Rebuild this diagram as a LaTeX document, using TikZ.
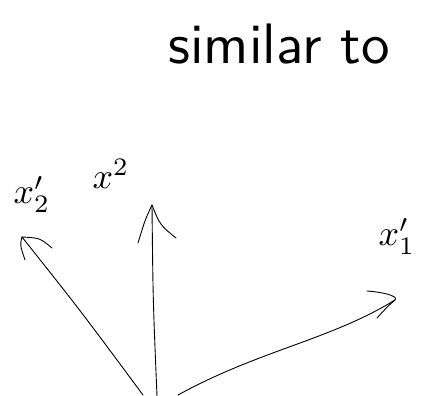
\documentclass[tikz,border=0pt]{standalone}
\begin{document}
\begin{tikzpicture}[x=1pt,y=-1pt,
  pen/.style={line width=0.9pt,line cap=round,line join=round,black},
  label/.style={inner sep=0pt,scale=3.6}]
\useasboundingbox (0,0) rectangle (434,396);
% title
\node[inner sep=0pt,scale=5.7,font=\sffamily] (title) at (279,44) {similar to};
% common origin of the three vectors
\coordinate (o) at (155,396);
\coordinate (a2) at (22,237);
\coordinate (b2) at (152,205);
\coordinate (a1) at (395,300);
% vector x'_2
\draw[pen] (143,395) .. controls (80,310) .. (a2);
\draw[pen] (a2) .. controls (20,245) .. (25,260);
\draw[pen] (a2) .. controls (40,238) .. (52,248);
% vector x^2
\draw[pen] (157,396) .. controls (153,300) .. (b2);
\draw[pen] (b2) .. controls (145,220) .. (138,243);
\draw[pen] (b2) .. controls (160,225) .. (176,238);
% vector x'_1
\draw[pen] (178,395) .. controls (260,350) and (330,340) .. (a1);
\draw[pen] (367,291) .. controls (392,293) and (398,298) .. (a1);
\draw[pen] (a1) .. controls (388,306) .. (377,318);
% labels
\node[label] (l2) at (32,194) {$x_2'$};
\node[label] (l3) at (111,174) {$x^2$};
\node[label] (l1) at (397,236) {$x_1'$};
\end{tikzpicture}
\end{document}
